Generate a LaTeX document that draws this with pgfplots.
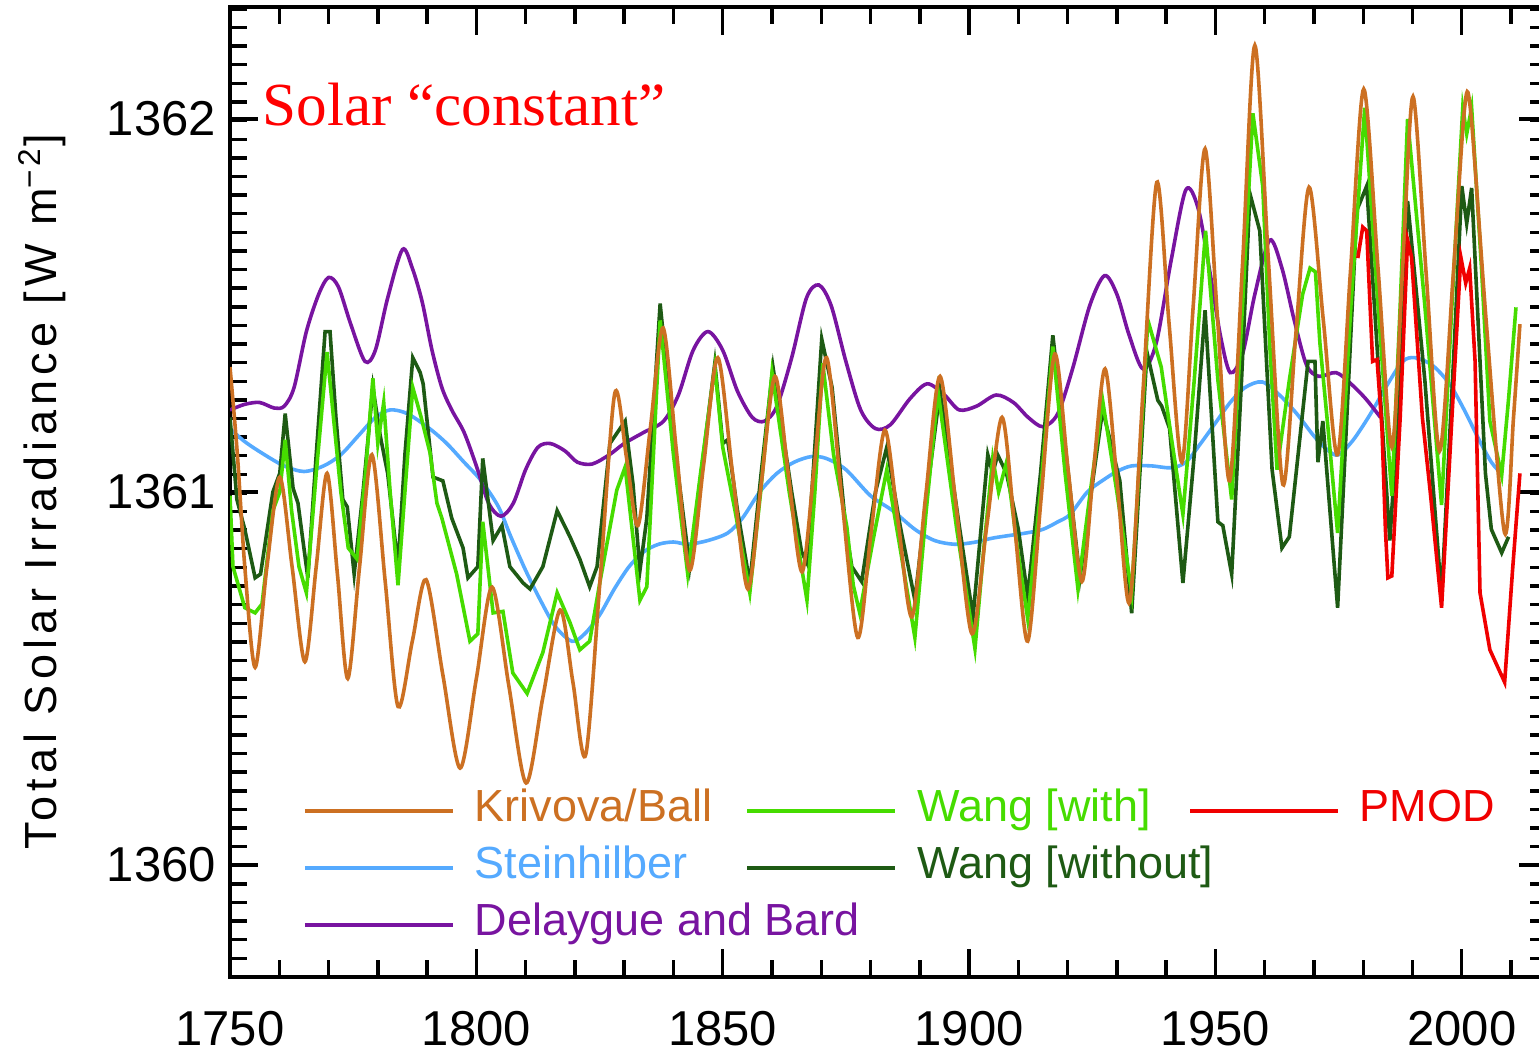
\documentclass[border=0pt]{standalone}
\usepackage{fontspec}
\setmainfont{Liberation Sans}
\newfontfamily\serif{Liberation Serif}
\newfontfamily\ylabfont[LetterSpace=12]{Liberation Sans}
\usepackage{pgfplots}
\pgfplotsset{compat=1.18}

\definecolor{krivova}{RGB}{204,112,34}
\definecolor{steinh}{RGB}{85,170,255}
\definecolor{delay}{RGB}{120,20,160}
\definecolor{wangwith}{RGB}{70,220,0}
\definecolor{wangwo}{RGB}{30,90,20}
\definecolor{pmod}{RGB}{240,0,0}

\newcommand{\lent}[2]{\textcolor{#1}{\makebox[67.75pt][l]{#2}}}

\begin{document}
\begin{tikzpicture}
\useasboundingbox (-57.5pt,-18.25pt) rectangle (327.25pt,244.25pt);
\begin{axis}[
  at={(0,0)}, anchor=south west,
  scale only axis, width=329.25pt, height=242.5pt,
  xmin=1750, xmax=2017.3, ymin=1359.7, ymax=1362.3,
  xtick={1750,1800,...,2000}, minor xtick={1760,1770,...,2010},
  ytick={1360,1361,1362}, minor ytick={1359.75,1359.8,...,1362.26},
  xticklabel pos=bottom, yticklabel pos=left,
  major tick length=7pt, minor tick length=4.25pt,
  every tick/.style={black, line width=0.85pt},
  axis line style={line width=0.85pt},
  /pgf/number format/assume math mode=true,
  /pgf/number format/1000 sep={},
  tick label style={font=\fontsize{12.25pt}{14pt}\selectfont},
  xticklabel style={yshift=-5pt},
  ylabel={\ylabfont Total Solar Irradiance [W m\textsuperscript{−2}]},
  ylabel style={at={(axis description cs:-0.1428,0.5)}, anchor=center, font=\fontsize{11.25pt}{13pt}\selectfont},
  legend image code/.code={\draw[#1] (0pt,0pt) -- (37pt,0pt); \path (42pt,0pt);},
  legend style={at={(axis description cs:0.0555,0.193)}, anchor=north west, draw=none, fill=none,
    inner sep=0pt, outer sep=0pt,
    column sep=0pt, row sep=3.75pt, nodes={inner sep=0pt, text height=8pt, text depth=2.5pt},
    font=\fontsize{11.25pt}{13pt}\selectfont},
  legend columns=3,
  every axis plot/.append style={line width=0.9pt, forget plot},
]
% Steinhilber
\addplot[steinh, smooth] coordinates {
(1750,1361.17) (1753,1361.135) (1757,1361.1) (1761,1361.07) (1765,1361.055) (1769,1361.07)
(1772.5,1361.10) (1776,1361.15) (1779.5,1361.2) (1782.5,1361.22) (1786,1361.21) (1790.5,1361.17)
(1794,1361.13) (1797.5,1361.08) (1801,1361.03) (1804.5,1360.96) (1807,1360.88) (1810,1360.79)
(1813,1360.71) (1816,1360.64) (1819.4,1360.6) (1822,1360.62) (1825,1360.67) (1828,1360.74)
(1831,1360.80) (1834,1360.84) (1837,1360.86) (1840,1360.866) (1843,1360.86) (1847,1360.87)
(1851,1360.89) (1854,1360.93) (1857.5,1361.0) (1861,1361.05) (1864.5,1361.08) (1868,1361.095)
(1871,1361.09) (1875,1361.06) (1880,1360.99) (1884.5,1360.95) (1889,1360.9) (1893,1360.87)
(1897,1360.86) (1901,1360.865) (1905,1360.877) (1911.5,1360.89) (1915,1360.90) (1918,1360.92)
(1920.5,1360.94) (1924,1361.0) (1927,1361.03) (1930,1361.055) (1933,1361.07) (1937,1361.07)
(1941,1361.065) (1944,1361.08) (1947,1361.13) (1950,1361.185) (1953,1361.24) (1956,1361.28)
(1959.5,1361.295) (1963,1361.26) (1966.5,1361.21) (1970,1361.15) (1973,1361.11) (1975,1361.1)
(1978,1361.14) (1981.5,1361.21) (1985,1361.29) (1988,1361.35) (1990.5,1361.36) (1994,1361.34)
(1997.5,1361.29) (2000.5,1361.22) (2003.5,1361.14) (2006,1361.08) (2008,1361.05)
};
% Delaygue and Bard
\addplot[delay, smooth] coordinates {
(1750,1361.22) (1753,1361.235) (1756,1361.24) (1759,1361.225) (1761,1361.23) (1763,1361.28)
(1765.5,1361.43) (1768,1361.53) (1770,1361.575) (1772,1361.55) (1774.5,1361.45) (1777.4,1361.35)
(1779.5,1361.38) (1782,1361.52) (1785,1361.65) (1787,1361.6) (1789,1361.51) (1791,1361.38)
(1793,1361.28) (1795,1361.22) (1797.5,1361.16) (1800,1361.07) (1802.5,1360.97) (1805,1360.935)
(1807.5,1360.97) (1810,1361.06) (1812.5,1361.12) (1815,1361.13) (1818,1361.11) (1820.5,1361.08)
(1823.5,1361.075) (1827,1361.1) (1830,1361.13) (1834,1361.16) (1838,1361.19) (1841,1361.26)
(1844,1361.38) (1847,1361.43) (1850,1361.38) (1853,1361.27) (1856,1361.2) (1858.5,1361.19)
(1861,1361.23) (1864,1361.36) (1867,1361.52) (1869.5,1361.555) (1872,1361.5) (1875,1361.35)
(1878,1361.22) (1881,1361.17) (1884,1361.18) (1888,1361.25) (1891.5,1361.29) (1895,1361.26)
(1898,1361.22) (1901.5,1361.23) (1905.5,1361.26) (1909,1361.24) (1912,1361.2) (1915,1361.175)
(1918,1361.21) (1921,1361.33) (1924.5,1361.5) (1927.5,1361.58) (1930,1361.53) (1932.5,1361.42)
(1935.3,1361.33) (1938,1361.4) (1941,1361.62) (1944,1361.81) (1946.5,1361.76) (1949,1361.58)
(1951,1361.42) (1953,1361.32) (1955.5,1361.37) (1958,1361.53) (1961,1361.675) (1963.5,1361.6)
(1966,1361.46) (1968.5,1361.34) (1971,1361.31) (1974.5,1361.32) (1977.5,1361.29) (1980.5,1361.25)
(1983.5,1361.2)
};
% Wang without
\addplot[wangwo] coordinates {
(1750,1361.2) (1751.4,1360.98) (1753,1360.9) (1755.1,1360.77) (1756.2,1360.78) (1758.7,1361.0)
(1760.1,1361.05) (1761.2,1361.21) (1762.8,1361.01) (1763.8,1360.97) (1765.8,1360.77) (1767.5,1361.1)
(1769.3,1361.43) (1770.3,1361.43) (1771.5,1361.2) (1772.9,1360.98) (1773.8,1360.96) (1775.2,1360.78)
(1777,1361.0) (1779,1361.28) (1780.5,1361.15) (1782,1361.05) (1784.1,1360.80) (1785.5,1361.1)
(1787.1,1361.36) (1788.6,1361.32) (1789.2,1361.29) (1791.2,1361.04) (1793.2,1361.03) (1795,1360.93)
(1797.3,1360.85) (1798.3,1360.77) (1800.3,1360.80) (1801.3,1361.09) (1803.4,1360.87) (1805.2,1360.91)
(1806.8,1360.8) (1809.5,1360.756) (1810.9,1360.74) (1813.5,1360.8) (1816.4,1360.95) (1819,1360.88)
(1821,1360.82) (1823,1360.746) (1824.5,1360.80) (1827.1,1361.13) (1830.2,1361.19) (1831.8,1361.02)
(1833.2,1360.79) (1834.6,1360.93) (1837.3,1361.505) (1840,1361.15) (1843.3,1360.80) (1845.8,1361.07)
(1848.4,1361.345) (1850,1361.13) (1851,1361.14) (1853,1360.95) (1855.5,1360.756) (1857.8,1361.05)
(1860.2,1361.335) (1864,1361.0) (1866,1360.84) (1867.1,1360.81) (1868.6,1361.1) (1870.1,1361.41)
(1872.2,1361.28) (1875,1360.9) (1876.2,1360.8) (1878.2,1360.76) (1881,1361.0) (1883.3,1361.12)
(1886,1360.91) (1889,1360.71) (1891.5,1361.0) (1894.1,1361.27) (1898,1360.91) (1900.8,1360.665)
(1903.8,1361.10) (1904.8,1361.05) (1905.8,1361.10) (1907.6,1361.05) (1910,1360.9) (1911.9,1360.72)
(1914.5,1361.05) (1917,1361.42) (1919.7,1361.1) (1922.5,1360.77) (1924.8,1361.0) (1927.1,1361.22)
(1928.6,1361.14) (1930.6,1361.03) (1933,1360.675) (1936.1,1361.375) (1938.3,1361.246) (1939.1,1361.23)
(1940.7,1361.17) (1943.4,1360.756) (1945.7,1361.1) (1947.9,1361.487) (1950.5,1360.92) (1951.5,1360.91)
(1953.3,1360.78) (1955.3,1361.3) (1957,1361.80) (1959,1361.70) (1961.5,1361.06) (1963.5,1360.85)
(1965,1360.88) (1968.8,1361.35) (1970.2,1361.35) (1970.8,1361.08) (1971.8,1361.19) (1974.8,1360.69)
(1978.7,1361.755) (1980.7,1361.82) (1983,1361.35) (1985.4,1360.87) (1987.5,1361.3) (1989,1361.78)
(1992.5,1361.3) (1995.9,1360.72) (1998.5,1361.4) (2000,1361.82) (2001,1361.72) (2002,1361.815)
(2004.8,1361.05) (2006,1360.9) (2008.1,1360.837) (2009.5,1360.88)
};
% Wang with
\addplot[wangwith] coordinates {
(1750,1360.99) (1750.6,1360.80) (1753,1360.69) (1755.1,1360.676) (1756.5,1360.70) (1758.7,1360.95)
(1760.1,1361.0) (1761.2,1361.14) (1762.5,1360.95) (1764,1360.8) (1765.5,1360.73) (1767.5,1361.05)
(1769.7,1361.375) (1771,1361.2) (1772.5,1361.0) (1774,1360.85) (1775.8,1360.82) (1777.5,1361.05)
(1779,1361.305) (1780,1361.13) (1781.2,1361.24) (1782.5,1361.0) (1784.1,1360.75) (1785.5,1361.0)
(1787.1,1361.28) (1788.8,1361.2) (1790.6,1361.105) (1792,1360.97) (1793,1360.93) (1796,1360.78)
(1798.7,1360.60) (1800.3,1360.62) (1801.3,1360.92) (1803.4,1360.676) (1805.4,1360.68) (1807.4,1360.515)
(1810.3,1360.46) (1813.5,1360.57) (1816.4,1360.73) (1819,1360.65) (1821,1360.577) (1823,1360.60)
(1825.1,1360.76) (1828.5,1361.005) (1830.2,1361.067) (1833.2,1360.71) (1834.6,1360.746) (1837.3,1361.46)
(1840,1361.1) (1842.9,1360.78) (1845.5,1361.05) (1848.4,1361.335) (1850,1361.12) (1852.5,1360.95)
(1855.5,1360.73) (1857.7,1361.0) (1860,1361.32) (1863.5,1361.0) (1867.1,1360.71) (1868.7,1361.0)
(1870.3,1361.345) (1872.5,1361.1) (1875.2,1360.906) (1876.5,1360.75) (1877.8,1360.676) (1880.5,1360.87)
(1883.3,1361.06) (1886,1360.85) (1889,1360.61) (1891.3,1360.95) (1893.7,1361.27) (1897.5,1360.9)
(1901.2,1360.58) (1903,1360.85) (1904.8,1361.09) (1906,1361.0) (1907.6,1361.08) (1909.8,1360.85)
(1911.9,1360.66) (1914.5,1361.0) (1917,1361.39) (1919.5,1361.05) (1922.1,1360.74) (1924.6,1361.0)
(1927.1,1361.246) (1930,1361.0) (1933,1360.73) (1936.3,1361.46) (1939,1361.335) (1941,1361.15)
(1943.4,1360.94) (1945.7,1361.3) (1948,1361.7) (1950.5,1361.3) (1953.3,1360.98) (1955.5,1361.5)
(1957.6,1362.015) (1959.6,1361.82) (1961,1361.4) (1962.5,1361.06) (1965,1361.3) (1967.7,1361.53)
(1969.2,1361.6) (1970.3,1361.59) (1971.2,1361.4) (1973,1361.15) (1974.8,1360.89) (1977.5,1361.5)
(1980.3,1362.03) (1983,1361.5) (1985.8,1360.99) (1987.5,1361.5) (1989,1362.0) (1992.5,1361.5)
(1995.9,1360.965) (1998,1361.5) (2000.2,1362.03) (2001,1361.96) (2002,1362.03) (2004,1361.6)
(2005.7,1361.19) (2008.1,1361.045) (2009.5,1361.25) (2011,1361.495)
};
% Krivova/Ball
\addplot[krivova, smooth] coordinates {
(1750,1361.335) (1751.5,1361.1) (1753,1360.8) (1755.1,1360.53) (1757.5,1360.8) (1760.1,1361.04)
(1762.6,1360.8) (1765.2,1360.545) (1767.5,1360.8) (1769.7,1361.05) (1771.8,1360.78) (1773.9,1360.50)
(1776.3,1360.8) (1778.8,1361.1) (1781.5,1360.76) (1784.1,1360.425) (1787,1360.6) (1789.8,1360.765)
(1793.2,1360.51) (1796.7,1360.26) (1800,1360.5) (1803.2,1360.745) (1806.6,1360.48) (1810.1,1360.22)
(1813.5,1360.45) (1817,1360.684) (1819.6,1360.49) (1822.2,1360.296) (1825.2,1360.78) (1828.1,1361.265)
(1830.5,1361.09) (1832.8,1360.91) (1835.3,1361.17) (1837.9,1361.44) (1840.6,1361.11) (1843.3,1360.79)
(1846.1,1361.07) (1849,1361.36) (1852,1361.05) (1855.1,1360.74) (1857.8,1361.02) (1860.6,1361.31)
(1863.3,1361.05) (1866.1,1360.786) (1868.6,1361.07) (1871.1,1361.36) (1874.2,1360.98) (1877.4,1360.61)
(1880.1,1360.89) (1882.9,1361.166) (1885.6,1360.92) (1888.4,1360.665) (1891.2,1360.99) (1894.1,1361.31)
(1897.3,1360.97) (1900.6,1360.62) (1903.6,1360.91) (1906.7,1361.2) (1909.3,1360.9) (1911.9,1360.6)
(1914.6,1360.98) (1917.4,1361.37) (1920.1,1361.06) (1922.9,1360.76) (1925.2,1361.05) (1927.6,1361.33)
(1930.1,1361.02) (1932.6,1360.705) (1935.3,1361.27) (1938.1,1361.83) (1940.6,1361.45) (1943.2,1361.08)
(1945.5,1361.5) (1947.9,1361.92) (1950.4,1361.47) (1952.9,1361.03) (1955.5,1361.61) (1958,1362.197)
(1960.8,1361.61) (1963.7,1361.02) (1966.3,1361.42) (1969,1361.817) (1971.9,1361.46) (1974.8,1361.10)
(1977.4,1361.59) (1980.1,1362.08) (1983,1361.6) (1985.8,1361.12) (1988,1361.6) (1990.1,1362.06)
(1992.8,1361.58) (1995.5,1361.11) (1998.2,1361.57) (2000.5,1362.02) (2001.8,1362.02) (2005,1361.45)
(2008.7,1360.89) (2010.5,1361.2) (2011.8,1361.45)
};
% PMOD
\addplot[pmod] coordinates {
(1978.9,1361.627) (1979.9,1361.71) (1980.7,1361.70) (1981.9,1361.35) (1982.8,1361.355) (1983.8,1361.17)
(1984.5,1360.9) (1985,1360.77) (1985.8,1360.775) (1987.5,1361.2) (1989,1361.675) (1989.8,1361.63)
(1992,1361.2) (1993.6,1361.0) (1995.9,1360.69) (1998,1361.2) (1999.8,1361.63) (2000.8,1361.56)
(2001.6,1361.60) (2002.7,1361.35) (2003.7,1360.73) (2005.7,1360.577) (2008.7,1360.49) (2010.3,1360.79)
(2011.8,1361.05)
};

\addlegendimage{krivova, line width=0.9pt}\addlegendentry{\lent{krivova}{Krivova/Ball}}
\addlegendimage{wangwith, line width=0.9pt}\addlegendentry{\lent{wangwith}{Wang [with]}}
\addlegendimage{pmod, line width=0.9pt}\addlegendentry{\lent{pmod}{PMOD}}
\addlegendimage{steinh, line width=0.9pt}\addlegendentry{\lent{steinh}{Steinhilber}}
\addlegendimage{wangwo, line width=0.9pt}\addlegendentry{\lent{wangwo}{Wang [without]}}
\addlegendimage{empty legend}\addlegendentry{}
\addlegendimage{delay, line width=0.9pt}\addlegendentry{\lent{delay}{Delaygue and Bard}}

\node[anchor=base west, inner sep=0pt, text=red, font=\serif\fontsize{15.3pt}{18pt}\selectfont]
  at (rel axis cs:0.0243,0.878) {Solar “constant”};
\end{axis}
\end{tikzpicture}
\end{document}
